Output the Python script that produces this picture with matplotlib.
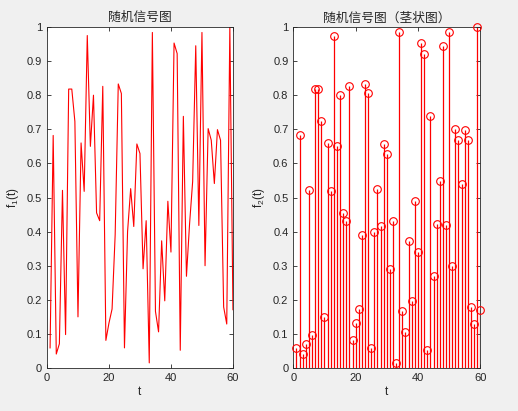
import matplotlib.pyplot as plt
import numpy as np

plt.rcParams['font.family'] = ['Liberation Sans', 'Noto Sans CJK SC']

# sample index and random signal values
t = np.arange(1, 61)
f = [0.059, 0.682, 0.041, 0.071, 0.521, 0.098, 0.818, 0.818, 0.723, 0.150,
     0.660, 0.518, 0.975, 0.650, 0.800, 0.455, 0.432, 0.826, 0.081, 0.132,
     0.173, 0.391, 0.833, 0.805, 0.059, 0.400, 0.526, 0.415, 0.657, 0.629,
     0.291, 0.432, 0.015, 0.984, 0.166, 0.106, 0.373, 0.197, 0.489, 0.340,
     0.953, 0.922, 0.052, 0.738, 0.269, 0.422, 0.547, 0.945, 0.418, 0.984,
     0.300, 0.702, 0.668, 0.541, 0.699, 0.668, 0.179, 0.129, 1.000, 0.171]

titles = ['随机信号图', '随机信号图（茎状图）']
ylabels = ['$\\mathregular{f_1(t)}$', '$\\mathregular{f_2(t)}$']
xticks = [0, 20, 40, 60]
yticks = np.round(np.arange(0, 1.01, 0.1), 1)
ytick_labels = ['0', '0.1', '0.2', '0.3', '0.4', '0.5', '0.6', '0.7', '0.8', '0.9', '1']

fig = plt.figure(figsize=(5.18, 4.11), dpi=100, facecolor='#f0f0f0')
ax1 = fig.add_axes([0.0907, 0.1046, 0.359, 0.8297])
ax2 = fig.add_axes([0.5662, 0.1046, 0.3610, 0.8297])

ax1.plot(t, f, color='red', linewidth=0.8)

markers, stems, base = ax2.stem(t, f, linefmt='r-', markerfmt='ro', basefmt='k-')
plt.setp(stems, linewidth=0.9)
plt.setp(markers, markersize=5.5, markerfacecolor='none', markeredgewidth=0.8,
         clip_on=False, zorder=3)
plt.setp(base, linewidth=0.6, color='#262626')

for ax, title, yl in zip([ax1, ax2], titles, ylabels):
    ax.set_xlim(0, 60)
    ax.set_ylim(0, 1)
    ax.set_xticks(xticks)
    ax.set_yticks(yticks)
    ax.set_yticklabels(ytick_labels)
    ax.tick_params(direction='in', top=True, right=True, labelsize=8,
                   colors='#262626', length=3, width=0.6)
    for s in ax.spines.values():
        s.set_linewidth(0.6)
        s.set_color('#262626')
    ax.set_title(title, fontsize=9.2, color='#262626', pad=4,
                 family=['Noto Sans CJK SC', 'DejaVu Sans'])
    ax.set_xlabel('t', fontsize=8.5, color='#262626', labelpad=2)
    ax.set_ylabel(yl, fontsize=8.5, color='#262626', labelpad=4)

fig.savefig('out.png', dpi=100, facecolor=fig.get_facecolor())
